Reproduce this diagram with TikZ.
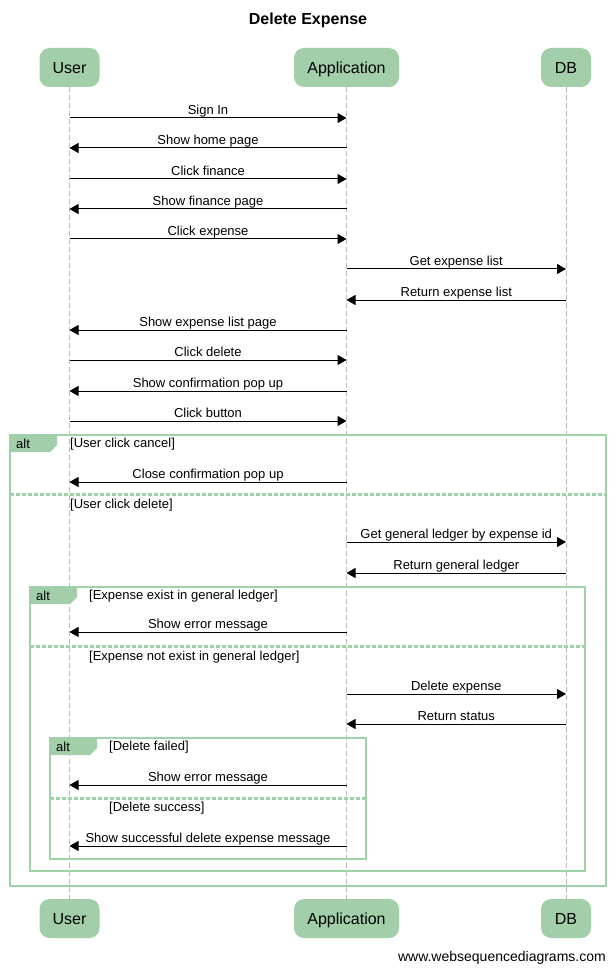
\documentclass[tikz,border=0pt]{standalone}
\usepackage{fontspec}
\setmainfont{Liberation Sans}
\usetikzlibrary{arrows.meta}
\definecolor{wsgreen}{RGB}{162,207,170}
\definecolor{wsframe}{RGB}{160,210,170}
\definecolor{lifegray}{RGB}{185,185,185}
\tikzset{
  part/.style={rounded corners=10pt, fill=wsgreen, minimum height=39pt, inner sep=0pt, text height=11.5pt, text depth=0pt, font=\fontsize{16}{18}\selectfont},
  life/.style={draw=lifegray, line width=0.8pt, dash pattern=on 5pt off 3pt},
  msgline/.style={line width=1pt, -{Triangle[length=9pt,width=10pt]}},
  msglabel/.style={anchor=base, yshift=3.5pt, inner sep=0pt, font=\fontsize{13}{15}\selectfont},
  framebox/.style={draw=wsframe, line width=2pt},
  sepline/.style={draw=wsframe, line width=3pt, dash pattern=on 4pt off 2pt},
  tab/.style={fill=wsgreen},
  condlabel/.style={anchor=base west, inner sep=0pt, font=\fontsize{13}{15}\selectfont},
}
\newcommand\mymsg[5]{%
  \coordinate (#1s) at (#3,#2);
  \coordinate (#1e) at (#4,#2);
  \draw[msgline] (#1s) -- (#1e) node[msglabel, midway] {#5};
}
\newcommand\altframe[6]{% name, x1, y1, x2, y2, ysep
  \draw[framebox] (#2,#3) rectangle (#4,#5);
  \fill[tab] (#2,#3) -- ({#2+47},#3) -- ({#2+47},{#3+10}) -- ({#2+40},{#3+17}) -- (#2,{#3+17}) -- cycle;
  \node[condlabel] (#1alt) at ({#2+6},{#3+13}) {alt};
  \draw[sepline] (#2,#6) -- (#4,#6);
}
\begin{document}
\begin{tikzpicture}[x=1pt,y=-1pt]
\useasboundingbox (0,0) rectangle (615,973);
\fill[white] (0,0) rectangle (615,973);
\node[font=\bfseries\fontsize{16}{18}\selectfont] (title) at (308,20) {Delete Expense};
% participants
\node[part, minimum width=60pt] (user) at (69.5,67.5) {User};
\node[part, minimum width=105pt] (app) at (346.5,67.5) {Application};
\node[part, minimum width=50pt] (db) at (566,67.5) {DB};
\node[part, minimum width=60pt] (userb) at (69.5,918.5) {User};
\node[part, minimum width=105pt] (appb) at (346.5,918.5) {Application};
\node[part, minimum width=50pt] (dbb) at (566,918.5) {DB};
\draw[life] (user.south) -- (userb.north);
\draw[life] (app.south) -- (appb.north);
\draw[life] (db.south) -- (dbb.north);
% messages
\mymsg{m1}{118}{69.5}{346.5}{Sign In}
\mymsg{m2}{148}{346.5}{69.5}{Show home page}
\mymsg{m3}{179}{69.5}{346.5}{Click finance}
\mymsg{m4}{209}{346.5}{69.5}{Show finance page}
\mymsg{m5}{239}{69.5}{346.5}{Click expense}
\mymsg{m6}{269}{346.5}{566}{Get expense list}
\mymsg{m7}{300}{566}{346.5}{Return expense list}
\mymsg{m8}{330}{346.5}{69.5}{Show expense list page}
\mymsg{m9}{360}{69.5}{346.5}{Click delete}
\mymsg{m10}{391}{346.5}{69.5}{Show confirmation pop up}
\mymsg{m11}{421}{69.5}{346.5}{Click button}
% outer alt
\altframe{fa}{10}{435}{606}{886}{494}
\node[condlabel] (ca1) at (70,447.5) {[User click cancel]};
\mymsg{m12}{482}{346.5}{69.5}{Close confirmation pop up}
\node[condlabel] (ca2) at (70,508.5) {[User click delete]};
\mymsg{m13}{542}{346.5}{566}{Get general ledger by expense id}
\mymsg{m14}{573}{566}{346.5}{Return general ledger}
% inner alt 1
\altframe{fb}{30}{587}{585}{871}{646}
\node[condlabel] (cb1) at (89,599.5) {[Expense exist in general ledger]};
\mymsg{m15}{632}{346.5}{69.5}{Show error message}
\node[condlabel] (cb2) at (89,660.5) {[Expense not exist in general ledger]};
\mymsg{m16}{694}{346.5}{566}{Delete expense}
\mymsg{m17}{724}{566}{346.5}{Return status}
% inner alt 2
\altframe{fc}{50}{738}{366}{859}{798}
\node[condlabel] (cc1) at (109,750.5) {[Delete failed]};
\mymsg{m18}{785}{346.5}{69.5}{Show error message}
\node[condlabel] (cc2) at (109,811.5) {[Delete success]};
\mymsg{m19}{846}{346.5}{69.5}{Show successful delete expense message}
% footer
\node[anchor=east, inner sep=0pt, font=\fontsize{14}{16}\selectfont] (footer) at (606,958) {www.websequencediagrams.com};
\end{tikzpicture}
\end{document}
